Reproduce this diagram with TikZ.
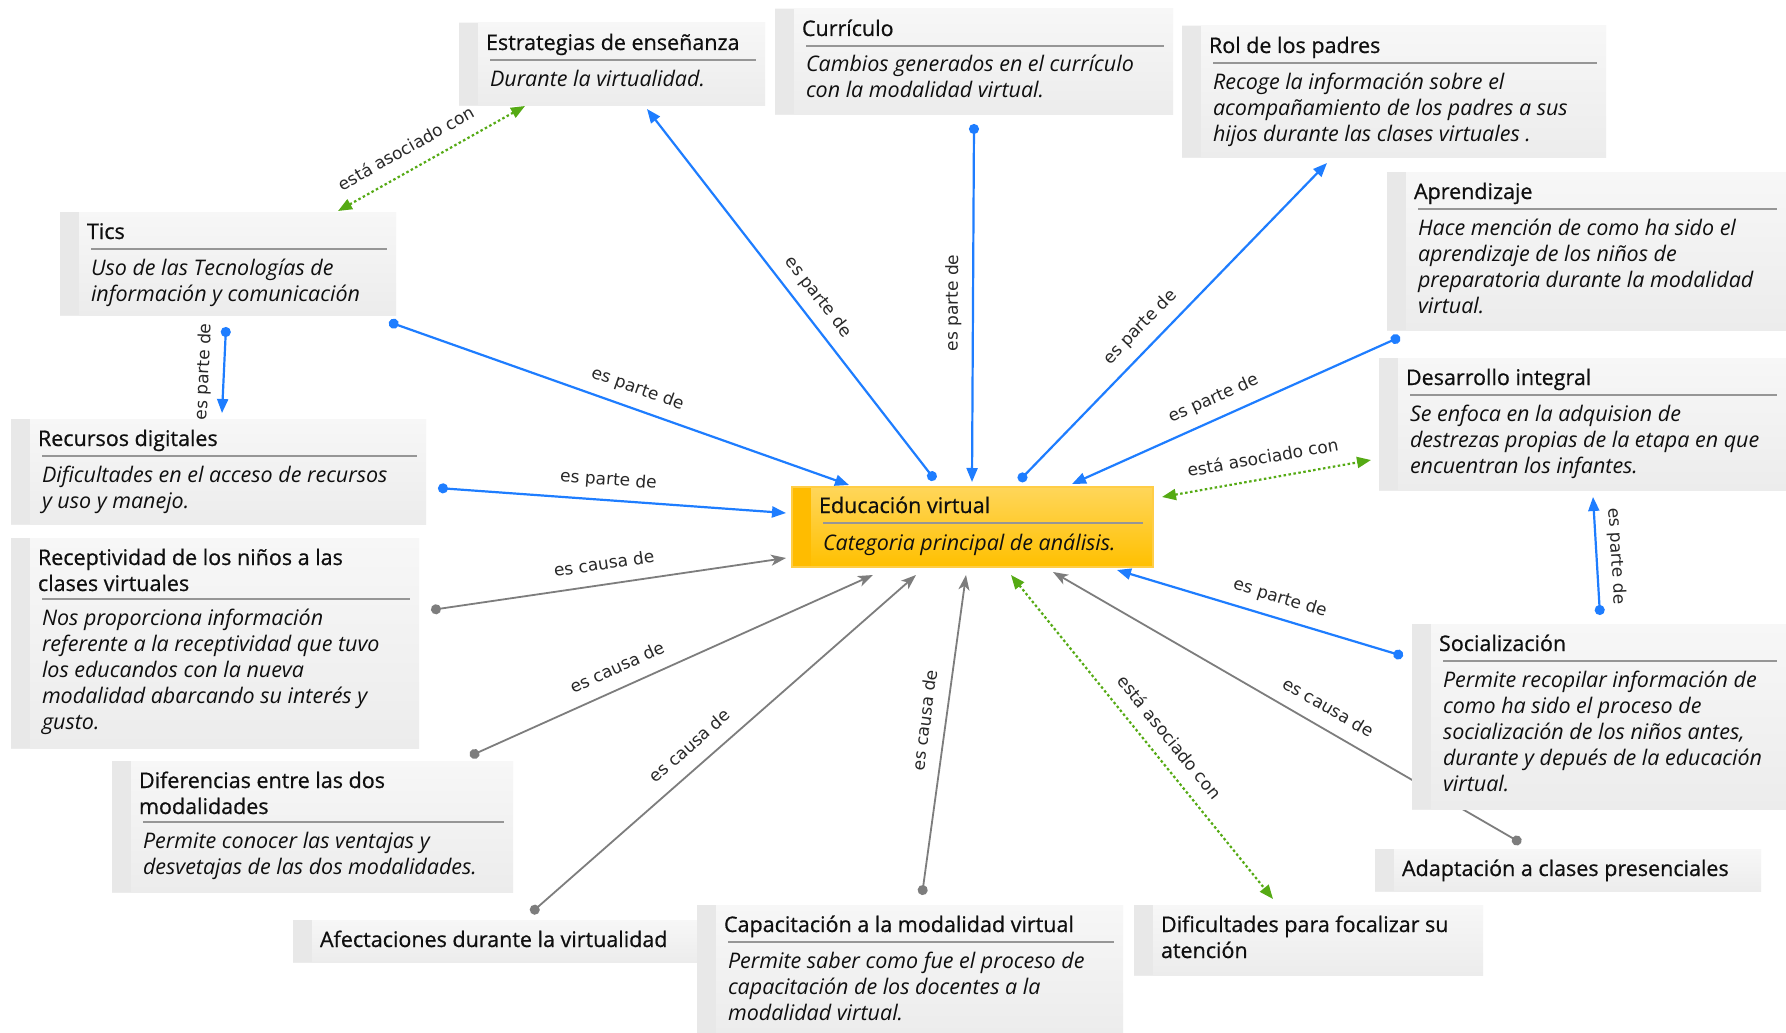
\documentclass[tikz,border=0pt]{standalone}
\usepackage{fontspec}
\setmainfont{Open Sans}
\newfontfamily\lblfont{DejaVu Sans}
\newfontfamily\ttlfont{Open Sans}[FakeBold=0.7]
\usetikzlibrary{arrows.meta,calc}
\pgfdeclarelayer{bg}
\pgfsetlayers{bg,main}

\definecolor{cblue}{RGB}{30,125,255}
\definecolor{cgray}{RGB}{125,125,125}
\definecolor{cgreen}{RGB}{85,170,20}
\definecolor{boxtop}{RGB}{247,247,247}
\definecolor{boxbot}{RGB}{236,236,236}
\definecolor{stripc}{RGB}{232,232,232}
\definecolor{septc}{RGB}{150,150,150}
\definecolor{txtc}{RGB}{15,15,15}
\definecolor{lbltxt}{RGB}{40,40,40}
\definecolor{eduTop}{RGB}{255,214,90}
\definecolor{eduBot}{RGB}{255,192,0}
\definecolor{eduStrip}{RGB}{255,188,0}
\definecolor{eduLine}{RGB}{255,205,70}

\newcommand\Ln[1]{\hbox{#1}}

\tikzset{
 gbox/.style={rectangle, anchor=north west, inner sep=0pt, outer sep=0pt, top color=boxtop, bottom color=boxbot, draw=none},
 ttl/.style={anchor=base west, inner sep=0pt, outer sep=0pt, font=\ttlfont\fontsize{21.5}{26}\selectfont, text=txtc},
 bdy/.style={ttl, font=\rmfamily\fontsize{21.5}{26}\selectfont\itshape},
 sepl/.style={draw=septc, line width=1.3pt},
 lbl/.style={font=\lblfont\fontsize{17}{20}\selectfont, text=lbltxt, anchor=south, inner xsep=1pt, inner ysep=10pt, text height=12.5pt, text depth=4pt},
 bluec/.style={draw=cblue, line width=2.2pt, {Circle[length=10pt]}-{Triangle[length=14pt,width=11pt]}},
 grayc/.style={draw=cgray, line width=1.8pt, {Circle[length=10pt]}-{Stealth[length=15pt,width=11pt,inset=4pt]}},
 greenc/.style={draw=cgreen, line width=2.2pt, dash pattern=on 2.5pt off 2.5pt, {Triangle[length=14pt,width=11pt]}-{Triangle[length=14pt,width=11pt]}},
}

% name, x1, y1, x2, y2, title lines, separator offset, body offset, body lines
\newcommand\concept[9]{%
  \node[gbox, minimum width={(#4-#2)*1pt}, minimum height={(#5-#3)*1pt}] (#1) at (#2,#3) {};
  \fill[stripc] (#1.north west) rectangle ([xshift=19pt]#1.south west);
  \node[ttl] (#1-t) at ([xshift=27pt,yshift=-27pt]#1.north west) {\vtop{#6}};
  \draw[sepl] ([xshift=31pt,yshift=-#7pt]#1.north west) -- ([xshift=-9pt,yshift=-#7pt]#1.north east);
  \node[bdy] (#1-b) at ([xshift=31pt,yshift=-#8pt]#1.north west) {\vtop{#9}};
}
% name, x1, y1, x2, y2, title lines
\newcommand\tconcept[6]{%
  \node[gbox, minimum width={(#4-#2)*1pt}, minimum height={(#5-#3)*1pt}] (#1) at (#2,#3) {};
  \fill[stripc] (#1.north west) rectangle ([xshift=19pt]#1.south west);
  \node[ttl] (#1-t) at ([xshift=27pt,yshift=-27pt]#1.north west) {\vtop{#6}};
}

\begin{document}
\begin{tikzpicture}[x=1pt,y=-1pt]
\useasboundingbox (0,0) rectangle (1786,1033);

\concept{estr}{459}{23}{765}{105}{\Ln{Estrategias de enseñanza}}{37}{63}{\Ln{Durante la virtualidad.}}
\concept{curr}{775}{9}{1173}{114}{\Ln{Currículo}}{37}{63}{\Ln{Cambios generados en el currículo}\Ln{con la modalidad virtual.}}
\concept{rol}{1182}{26}{1606}{157}{\Ln{Rol de los padres}}{37}{63}{\Ln{Recoge la información sobre el}\Ln{acompañamiento de los padres a sus}\Ln{hijos durante las clases virtuales .}}
\concept{apr}{1387}{172}{1786}{330}{\Ln{Aprendizaje}}{37}{63}{\Ln{Hace mención de como ha sido el}\Ln{aprendizaje de los niños de}\Ln{preparatoria durante la modalidad}\Ln{virtual.}}
\concept{tics}{60}{212}{396}{315}{\Ln{Tics}}{37}{63}{\Ln{Uso de las Tecnologías de}\Ln{información y comunicación}}
\concept{rec}{11}{419}{426}{524}{\Ln{Recursos digitales}}{37}{63}{\Ln{Dificultades en el acceso de recursos}\Ln{y uso y manejo.}}
\concept{recp}{11}{538}{419}{748}{\Ln{Receptividad de los niños a las}\Ln{clases virtuales}}{61}{87}{\Ln{Nos proporciona información}\Ln{referente a la receptividad que tuvo}\Ln{los educandos con la nueva}\Ln{modalidad abarcando su interés y}\Ln{gusto.}}
\concept{dif}{112}{761}{513}{892}{\Ln{Diferencias entre las dos}\Ln{modalidades}}{61}{87}{\Ln{Permite conocer las ventajas y}\Ln{desvetajas de las dos modalidades.}}
\tconcept{afe}{293}{920}{697}{962}{\Ln{Afectaciones durante la virtualidad}}
\concept{cap}{697}{905}{1123}{1033}{\Ln{Capacitación a la modalidad virtual}}{37}{63}{\Ln{Permite saber como fue el proceso de}\Ln{capacitación de los docentes a la}\Ln{modalidad virtual.}}
\tconcept{dfoc}{1134}{905}{1483}{975}{\Ln{Dificultades para focalizar su}\Ln{atención}}
\tconcept{adap}{1375}{849}{1761}{891}{\Ln{Adaptación a clases presenciales}}
\concept{soc}{1412}{624}{1786}{809}{\Ln{Socialización}}{37}{63}{\Ln{Permite recopilar información de}\Ln{como ha sido el proceso de}\Ln{socialización de los niños antes,}\Ln{durante y depués de la educación}\Ln{virtual.}}
\concept{des}{1379}{358}{1786}{490}{\Ln{Desarrollo integral}}{37}{63}{\Ln{Se enfoca en la adquision de}\Ln{destrezas propias de la etapa en que}\Ln{encuentran los infantes.}}

% central node
\node[rectangle, anchor=north west, inner sep=0pt, outer sep=0pt, minimum width=361pt, minimum height=80pt, top color=eduTop, bottom color=eduBot] (edu) at (792,487) {};
\fill[eduStrip] (edu.north west) rectangle ([xshift=19pt]edu.south west);
\draw[eduLine, line width=1.2pt] (edu.north west) rectangle (edu.south east);
\node[ttl] (edu-t) at ([xshift=27pt,yshift=-26pt]edu.north west) {\vtop{\Ln{Educación virtual}}};
\draw[sepl] ([xshift=31pt,yshift=-36pt]edu.north west) -- ([xshift=-10pt,yshift=-36pt]edu.north east);
\node[bdy] (edu-b) at ([xshift=31pt,yshift=-63pt]edu.north west) {\vtop{\Ln{Categoria principal de análisis.}}};

\begin{pgfonlayer}{bg}
\fill[white] (0,0) rectangle (1786,1033);
\draw[greenc] ($(tics.north west)+(278,-1)$) -- node[lbl,pos=.42,rotate=29.3]{está asociado con} ($(estr.south west)+(66,1)$);
\draw[bluec] ($(edu.north west)+(143,-7)$) -- node[lbl,pos=.46,rotate=-52.2]{es parte de} ($(estr.south west)+(188,4)$);
\draw[bluec] ($(curr.south west)+(199,10)$) -- node[lbl,pos=.5,rotate=89.7]{es parte de} ($(edu.north west)+(180,-5)$);
\draw[bluec] ($(edu.north west)+(227,-6)$) -- node[lbl,pos=.44,rotate=45.9]{es parte de} ($(rol.south west)+(145,6)$);
\draw[bluec] ($(apr.south west)+(13,7)$) -- node[lbl,pos=.544,rotate=24.1]{es parte de} ($(edu.north west)+(280,-3)$);
\draw[bluec] ($(tics.south east)+(-7,7)$) -- node[lbl,pos=.526,rotate=-19.5]{es parte de} ($(edu.north west)+(57,-2)$);
\draw[bluec] ($(tics.south west)+(166,12)$) -- node[lbl,pos=.53,rotate=87.3]{es parte de} ($(rec.north west)+(211,-6)$);
\draw[bluec] ($(rec.south east)+(12,-36)$) -- node[lbl,pos=.486,rotate=-4.1]{es parte de} ($(edu.north west)+(-6,26)$);
\draw[grayc] ($(recp.north east)+(12,72)$) -- node[lbl,pos=.496,rotate=8.3]{es causa de} ($(edu.north west)+(-6,71)$);
\draw[grayc] ($(dif.north west)+(358,-5)$) -- node[lbl,pos=.386,rotate=24.2]{es causa de} ($(edu.south west)+(81,8)$);
\draw[grayc] ($(afe.north west)+(238,-7)$) -- node[lbl,pos=.448,rotate=41.3]{es causa de} ($(edu.south west)+(124,8)$);
\draw[grayc] ($(cap.north west)+(225,-10)$) -- node[lbl,pos=.5375,rotate=82.2]{es causa de} ($(edu.south west)+(174,8)$);
\draw[greenc] ($(edu.south west)+(219,8)$) -- node[lbl,pos=.542,rotate=-51]{está asociado con} ($(dfoc.north west)+(139,-6)$);
\draw[grayc] ($(adap.north west)+(146,-6)$) -- node[lbl,pos=.434,rotate=-30.1]{es causa de} ($(edu.south west)+(261,5)$);
\draw[bluec] ($(soc.north west)+(-9,32)$) -- node[lbl,pos=.45,rotate=-16.7]{es parte de} ($(edu.south west)+(325,3)$);
\draw[bluec] ($(soc.north west)+(188,-9)$) -- node[lbl,pos=.49,rotate=-86.6]{es parte de} ($(des.south west)+(214,7)$);
\draw[greenc] ($(edu.north east)+(9,10)$) -- node[lbl,pos=.5,rotate=10]{está asociado con} ($(des.north west)+(-8,102)$);
\end{pgfonlayer}
\end{tikzpicture}
\end{document}
